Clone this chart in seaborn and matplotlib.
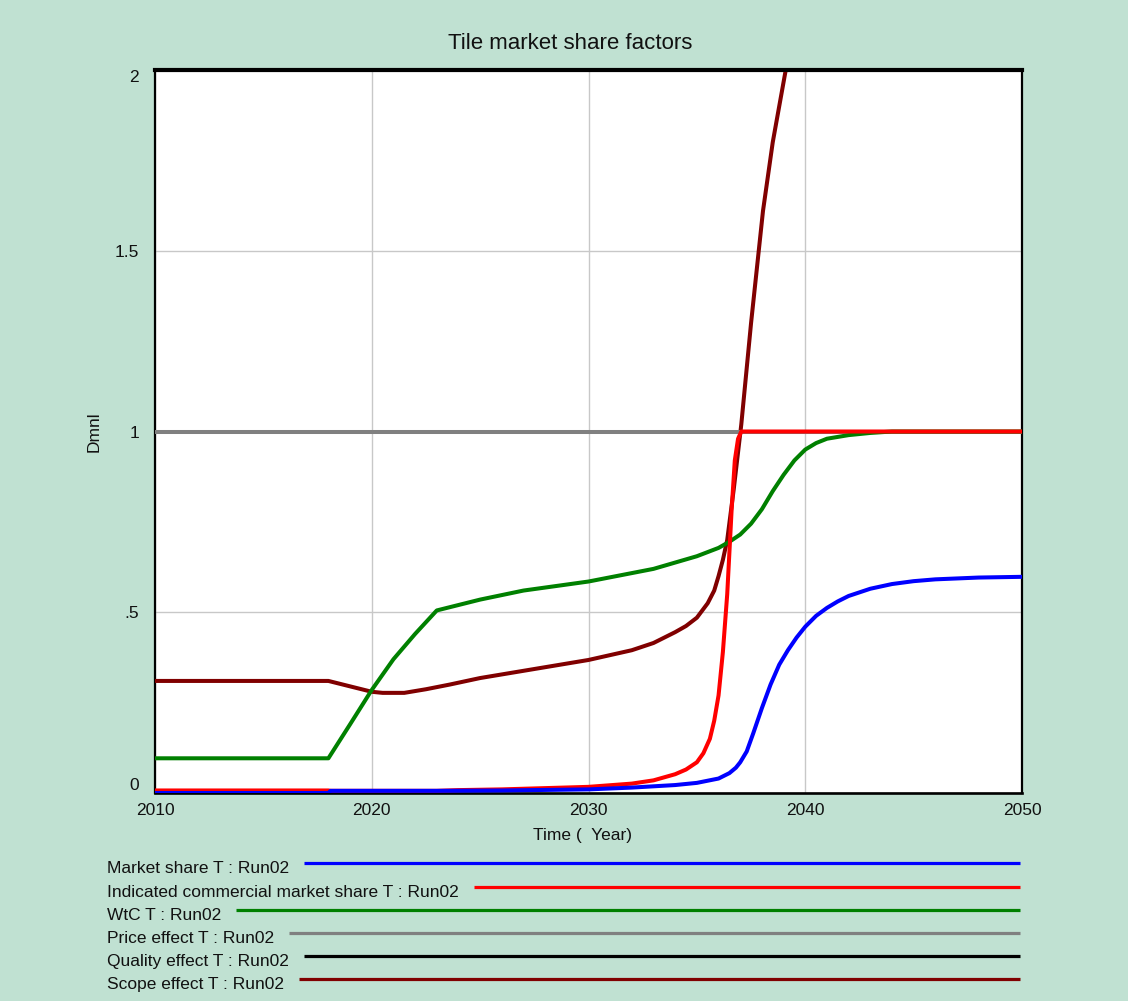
import matplotlib
matplotlib.use("Agg")
import numpy as np
import pandas as pd
import seaborn as sns
import matplotlib.pyplot as plt
from matplotlib.lines import Line2D

# ---------------- data ----------------
ms_years = [2010, 2018, 2018.1, 2023, 2026, 2030, 2032, 2034, 2035, 2036, 2036.5, 2036.8, 2037,
            2037.3, 2037.6, 2038, 2038.4, 2038.8, 2039.2, 2039.6, 2040, 2040.5, 2041, 2041.5,
            2042, 2043, 2044, 2045, 2046, 2048, 2050]
ms_vals = [0.0, 0.0, 0.006, 0.006, 0.007, 0.01, 0.015, 0.022, 0.028, 0.04, 0.055, 0.07, 0.085,
           0.115, 0.165, 0.235, 0.30, 0.355, 0.395, 0.43, 0.46, 0.49, 0.512, 0.53,
           0.545, 0.565, 0.578, 0.586, 0.591, 0.596, 0.598]

ind_years = [2010, 2018, 2018.1, 2023, 2024, 2026, 2030, 2032, 2033, 2034, 2034.5, 2035,
             2035.3, 2035.6, 2035.8, 2036, 2036.2, 2036.4, 2036.6, 2036.75, 2036.9, 2037.05, 2050]
ind_vals = [0.007, 0.007, 0.006, 0.006, 0.008, 0.01, 0.017, 0.026, 0.035, 0.052, 0.065, 0.085,
            0.11, 0.15, 0.20, 0.27, 0.39, 0.55, 0.78, 0.92, 0.98, 1.0, 1.0]

wtc_years = [2010, 2018, 2019, 2020, 2021, 2022, 2023, 2024, 2025, 2027, 2030, 2033, 2035,
             2036, 2036.5, 2037, 2037.5, 2038, 2038.5, 2039, 2039.5, 2040, 2040.5, 2041, 2042,
             2043, 2044, 2050]
wtc_vals = [0.096, 0.096, 0.19, 0.285, 0.37, 0.44, 0.505, 0.52, 0.535, 0.56, 0.585, 0.62, 0.655,
            0.678, 0.695, 0.715, 0.745, 0.785, 0.835, 0.88, 0.92, 0.95, 0.968, 0.98, 0.99,
            0.996, 1.0, 1.0]

price_years = [2010, 2050]
price_vals = [1.0, 1.0]

quality_years = [2010, 2050]
quality_vals = [2.0, 2.0]

scope_years = [2010, 2018, 2019, 2020, 2020.5, 2021.5, 2022.5, 2023.6, 2025, 2027, 2030, 2032,
               2033, 2034, 2034.5, 2035, 2035.5, 2035.8, 2036, 2036.2, 2036.4, 2036.7, 2037.05,
               2037.5, 2038.05, 2038.5, 2039.1, 2039.6]
scope_vals = [0.31, 0.31, 0.295, 0.28, 0.277, 0.277, 0.287, 0.30, 0.318, 0.338, 0.368, 0.395,
              0.415, 0.445, 0.462, 0.485, 0.525, 0.56, 0.60, 0.645, 0.70, 0.84, 1.02,
              1.30, 1.61, 1.80, 2.0, 2.15]

series_names = ["Market share T : Run02",
                "Indicated commercial market share T : Run02",
                "WtC T : Run02",
                "Price effect T : Run02",
                "Quality effect T : Run02",
                "Scope effect T : Run02"]
series_colors = ["#0000ff", "#ff0000", "#008000", "#808080", "#000000", "#800000"]
series_data = [(ms_years, ms_vals), (ind_years, ind_vals), (wtc_years, wtc_vals),
               (price_years, price_vals), (quality_years, quality_vals),
               (scope_years, scope_vals)]

x_ticks = [2010, 2020, 2030, 2040, 2050]
x_ticklabels = ["2010", "2020", "2030", "2040", "2050"]
y_ticks = [0, 0.5, 1, 1.5, 2]
y_ticklabels = ["0", ".5", "1", "1.5", "2"]

title = "Tile market share factors"
xlabel = "Time (  Year)"
ylabel = "Dmnl"

# ---------------- style ----------------
sns.set_theme(style="white")
plt.rcParams["font.family"] = ["Liberation Sans", "DejaVu Sans"]
BG = "#c0e1d2"

W, H = 1128, 1001
fig = plt.figure(figsize=(W / 100, H / 100), dpi=100, facecolor=BG)
L, R, T, B = 155, 1022, 70, 793
ax = fig.add_axes([L / W, 1 - B / H, (R - L) / W, (B - T) / H])
ax.set_facecolor("white")

# draw in reverse legend order (first series on top)
for i in reversed(range(len(series_names))):
    xs, ys = series_data[i]
    df = pd.DataFrame({"x": xs, "y": ys})
    sns.lineplot(data=df, x="x", y="y", ax=ax, color=series_colors[i], linewidth=2.9,
                 estimator=None, sort=False, legend=False, zorder=3 + (len(series_names) - i))
for ln in ax.lines:
    ln.set_solid_joinstyle("round")

ax.set_xlim(2010, 2050)
ax.set_ylim(0, 2)
ax.set_xticks(x_ticks)
ax.set_xticklabels(x_ticklabels)
ax.set_yticks(y_ticks)
ax.set_yticklabels(y_ticklabels)
ax.tick_params(axis="both", length=0, labelsize=12.5, colors="#111111")
ax.tick_params(axis="x", pad=7)
ax.tick_params(axis="y", pad=11.5)
ylabs = ax.get_yticklabels()
ylabs[0].set_va("bottom")
ylabs[-1].set_va("top")

ax.grid(True, color="#c8c8c8", linewidth=1.0)
ax.set_axisbelow(True)
for s in ax.spines.values():
    s.set_color("black")
    s.set_linewidth(1.6)
    s.set_visible(True)
ax.spines["bottom"].set_linewidth(1.9)
ax.spines["top"].set_linewidth(3.0)

ax.set_xlabel("")
ax.set_ylabel(ylabel, fontsize=12.5, color="#111111")
ax.yaxis.set_label_coords((101.7 - L) / (R - L), 0.5)

fig.text(570 / W, 1 - 43.5 / H, title, ha="center", va="center", fontsize=16, color="#111111")
fig.text(582.5 / W, 1 - 840 / H, xlabel, ha="center", va="baseline", fontsize=12.5,
         color="#111111")

# ---------------- legend ----------------
fig.canvas.draw()
renderer = fig.canvas.get_renderer()
row_y = [863, 887, 910, 933, 956, 979]
for name, col, yy in zip(series_names, series_colors, row_y):
    t = fig.text(107 / W, 1 - (yy + 9.7) / H, name, ha="left", va="baseline",
                 fontsize=12.5, color="#111111")
    bb = t.get_window_extent(renderer)
    x0 = bb.x1 + 15
    fig.add_artist(Line2D([x0 / W, 1020 / W], [1 - yy / H, 1 - yy / H],
                          transform=fig.transFigure, color=col, linewidth=2.3,
                          solid_capstyle="butt"))

fig.savefig("out.png", dpi=100, facecolor=BG)
